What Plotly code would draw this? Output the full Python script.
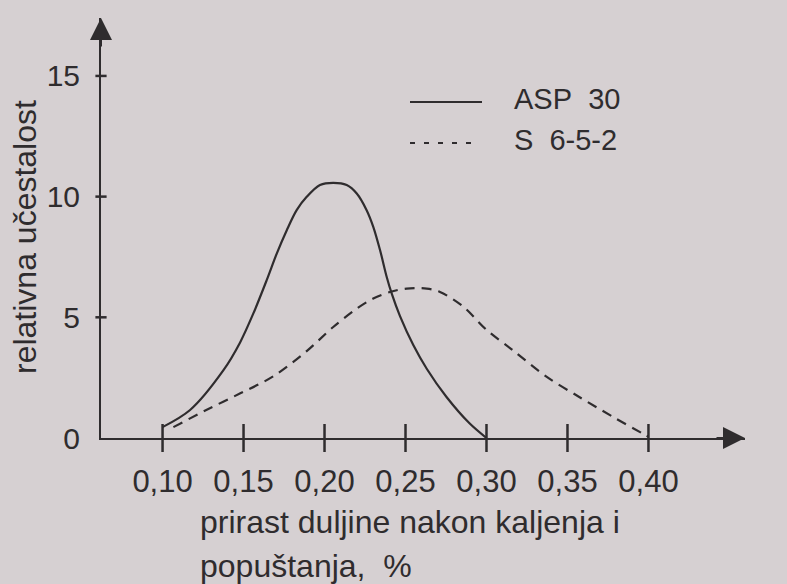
import plotly.graph_objects as go

# ---- data ----
asp30_x = [0.100, 0.117, 0.1375, 0.1478, 0.156, 0.1643, 0.1705, 0.1767, 0.1828, 0.189,
           0.1972, 0.2054, 0.2137, 0.2199, 0.226, 0.2301, 0.2343, 0.2384, 0.2415, 0.2466,
           0.2548, 0.2631, 0.2752, 0.2895, 0.300]
asp30_y = [0.45, 1.16, 2.8, 3.95, 5.15, 6.54, 7.64, 8.61, 9.44, 9.99,
           10.48, 10.57, 10.48, 10.13, 9.44, 8.75, 7.78, 6.67, 5.98, 5.05,
           3.85, 2.87, 1.71, 0.61, 0.0]

s652_x = [0.1067, 0.127, 0.148, 0.168, 0.189, 0.2054, 0.2199, 0.2301, 0.2404, 0.2507,
          0.2631, 0.2713, 0.2855, 0.300, 0.316, 0.337, 0.357, 0.378, 0.396, 0.400]
s652_y = [0.45, 1.16, 1.85, 2.54, 3.6, 4.6, 5.36, 5.78, 6.05, 6.19,
          6.19, 6.05, 5.45, 4.48, 3.65, 2.54, 1.71, 0.88, 0.2, 0.05]

x_tickvals = [0.10, 0.15, 0.20, 0.25, 0.30, 0.35, 0.40]
x_ticktext = ["0,10", "0,15", "0,20", "0,25", "0,30", "0,35", "0,40"]
y_tickvals = [0, 5, 10, 15]
y_ticktext = ["0", "5", "10", "15"]

series_names = ["ASP\u00a0\u00a030", "S\u00a0\u00a06-5-2"]

# ---- styling ----
INK = "#2f2c2e"
BG = "#d6d0d2"
FONT = "Liberation Sans, Arial, sans-serif"

X_RANGE = [0.062, 0.4596]
Y_RANGE = [0, 17.4]
W, H = 787, 584
ML, MR, MT, MB = 101, 42, 18, 146


def px(xpix):
    return (xpix - ML) / (W - ML - MR)


def py(ypix):
    return (H - MB - ypix) / (H - MT - MB)


fig = go.Figure()

fig.add_trace(go.Scatter(
    x=asp30_x, y=asp30_y, mode="lines", name=series_names[0],
    line=dict(color=INK, width=2.2, shape="spline", smoothing=0.9),
    showlegend=False, cliponaxis=False))

fig.add_trace(go.Scatter(
    x=s652_x, y=s652_y, mode="lines", name=series_names[1],
    line=dict(color=INK, width=2.2, dash="10px,7px", shape="spline", smoothing=0.9),
    showlegend=False, cliponaxis=False))

# tick marks crossing the axes
fig.add_trace(go.Scatter(
    x=x_tickvals, y=[0] * len(x_tickvals), mode="markers",
    marker=dict(symbol="line-ns", size=20, line=dict(color=INK, width=2.5)),
    showlegend=False, hoverinfo="skip", cliponaxis=False))
fig.add_trace(go.Scatter(
    x=[X_RANGE[0]] * (len(y_tickvals) - 1), y=y_tickvals[1:], mode="markers",
    marker=dict(symbol="line-ew", size=8, line=dict(color=INK, width=2.5)),
    showlegend=False, hoverinfo="skip", cliponaxis=False))

fig.update_xaxes(
    range=X_RANGE, showgrid=False, zeroline=False,
    showline=True, linecolor=INK, linewidth=2,
    tickmode="array", tickvals=x_tickvals, ticktext=x_ticktext, ticks="",
    ticklabelstandoff=15,
    tickfont=dict(family=FONT, size=31, color=INK))
fig.update_yaxes(
    range=Y_RANGE, showgrid=False, zeroline=False,
    showline=True, linecolor=INK, linewidth=2,
    tickmode="array", tickvals=y_tickvals, ticktext=y_ticktext, ticks="",
    ticklabelstandoff=13,
    tickfont=dict(family=FONT, size=30, color=INK))

annotations = [
    # arrow heads of the axes
    dict(x=0, y=1, xref="paper", yref="paper", ax=0, ay=30,
         showarrow=True, arrowhead=2, arrowsize=2.2, arrowwidth=2, arrowcolor=INK, text=""),
    dict(x=1, y=0, xref="paper", yref="paper", ax=-30, ay=0,
         showarrow=True, arrowhead=2, arrowsize=2.2, arrowwidth=2, arrowcolor=INK, text=""),
    # axis titles
    dict(x=px(25), y=py(237), xref="paper", yref="paper", text="relativna učestalost",
         textangle=-90, showarrow=False, font=dict(family=FONT, size=32, color=INK),
         xanchor="center", yanchor="middle"),
    dict(x=px(198), y=py(522), xref="paper", yref="paper",
         text="prirast duljine nakon kaljenja i",
         showarrow=False, font=dict(family=FONT, size=32, color=INK),
         xanchor="left", yanchor="middle"),
    dict(x=px(198), y=py(566), xref="paper", yref="paper",
         text="popuštanja,\u00a0\u00a0%",
         showarrow=False, font=dict(family=FONT, size=32, color=INK),
         xanchor="left", yanchor="middle"),
    # legend texts
    dict(x=px(512), y=py(99), xref="paper", yref="paper", text=series_names[0],
         showarrow=False, font=dict(family=FONT, size=29, color=INK),
         xanchor="left", yanchor="middle"),
    dict(x=px(512), y=py(140), xref="paper", yref="paper", text=series_names[1],
         showarrow=False, font=dict(family=FONT, size=29, color=INK),
         xanchor="left", yanchor="middle"),
]

shapes = [
    dict(type="line", xref="paper", yref="paper", x0=px(410), x1=px(482),
         y0=py(102), y1=py(102), line=dict(color=INK, width=2)),
    dict(type="line", xref="paper", yref="paper", x0=px(410), x1=px(480),
         y0=py(143), y1=py(143), line=dict(color=INK, width=1.8, dash="5px,9px")),
]

fig.update_layout(
    width=W, height=H,
    margin=dict(l=ML, r=MR, t=MT, b=MB, pad=0),
    paper_bgcolor=BG, plot_bgcolor=BG,
    font=dict(family=FONT, color=INK),
    annotations=annotations, shapes=shapes,
    showlegend=False,
)

fig.write_html(
    "out.html",
    config={"displayModeBar": False},
    post_script="document.body.style.margin='0';document.body.style.background='%s';" % BG,
)
